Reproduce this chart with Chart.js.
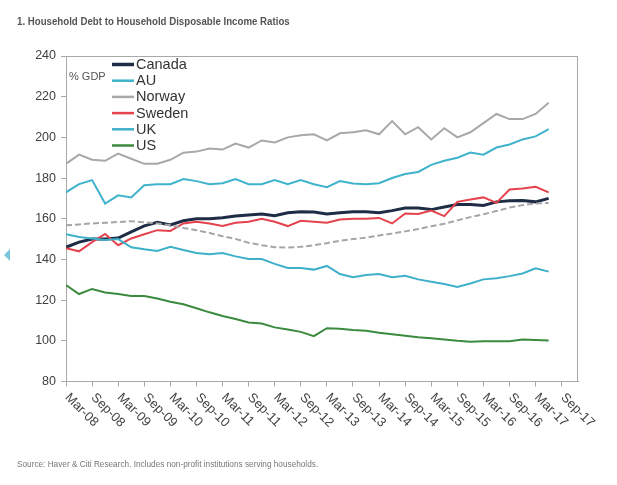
<!DOCTYPE html>
<html>
<head>
<meta charset="utf-8">
<title>Household Debt to Household Disposable Income Ratios</title>
<script src="https://cdn.jsdelivr.net/npm/chart.js@4.4.1/dist/chart.umd.min.js"></script>
<style>
  html, body { margin: 0; padding: 0; background: #fff; }
  #wrap { position: relative; width: 617px; height: 485px; overflow: hidden; }
  #chart { position: absolute; left: 0; top: 0; }
  .title {
    position: absolute; left: 17px; top: 15px;
    font: bold 11px "Liberation Sans", Arial, sans-serif;
    color: #555; white-space: nowrap;
    transform: scaleX(0.88); transform-origin: left top;
  }
  .source {
    position: absolute; left: 17px; top: 459px;
    font: 9px "Liberation Sans", Arial, sans-serif;
    color: #777; white-space: nowrap;
    transform: scaleX(0.915); transform-origin: left top;
  }
  .marker {
    position: absolute; left: 4px; top: 249px; width: 0; height: 0;
    border-top: 6px solid transparent; border-bottom: 6px solid transparent;
    border-right: 6px solid #7cc3dc;
  }
</style>
</head>
<body>
<div id="wrap">
  <canvas id="chart" width="617" height="485"></canvas>
  <div class="title">1. Household Debt to Household Disposable Income Ratios</div>
  <div class="source">Source: Haver &amp; Citi Research. Includes non-profit institutions serving households.</div>
  <div class="marker"></div>
</div>
<script>
// quarterly observations, Mar-08 .. Jun-17
const quarters = [
  "Mar-08", "Jun-08", "Sep-08", "Dec-08", "Mar-09", "Jun-09", "Sep-09", "Dec-09",
  "Mar-10", "Jun-10", "Sep-10", "Dec-10", "Mar-11", "Jun-11", "Sep-11", "Dec-11",
  "Mar-12", "Jun-12", "Sep-12", "Dec-12", "Mar-13", "Jun-13", "Sep-13", "Dec-13",
  "Mar-14", "Jun-14", "Sep-14", "Dec-14", "Mar-15", "Jun-15", "Sep-15", "Dec-15",
  "Mar-16", "Jun-16", "Sep-16", "Dec-16", "Mar-17", "Jun-17"
];
const xTickLabels = [
  "Mar-08", "Sep-08", "Mar-09", "Sep-09", "Mar-10", "Sep-10", "Mar-11", "Sep-11",
  "Mar-12", "Sep-12", "Mar-13", "Sep-13", "Mar-14", "Sep-14", "Mar-15", "Sep-15",
  "Mar-16", "Sep-16", "Mar-17", "Sep-17"
];
const yTicks = [80, 100, 120, 140, 160, 180, 200, 220, 240];

const canada = [146, 148.5, 150, 150, 150.5, 153.5, 156.5, 158.3, 157, 159, 160, 160, 160.5, 161.3, 161.8, 162.3,
  161.5, 162.9, 163.4, 163.3, 162.3, 162.9, 163.4, 163.4, 163, 164, 165.3, 165.3, 164.5, 165.8, 167, 167,
  166.5, 168.3, 168.8, 169, 168.3, 170];
const au = [173, 177, 179, 167.5, 171.5, 170.5, 176.5, 177, 177, 179.5, 178.5, 177, 177.5, 179.5, 177, 177,
  179, 177, 179, 177, 175.5, 178.5, 177.3, 177, 177.5, 180, 182, 183, 186.5, 188.5, 190, 192.5,
  191.5, 195, 196.5, 199, 200.5, 204];
const norway = [187, 191.5, 189, 188.5, 192, 189.5, 187, 187, 189, 192.5, 193, 194.5, 194, 197, 195, 198.5,
  197.5, 200, 201, 201.5, 198.5, 202, 202.5, 203.5, 201.5, 208, 201.5, 205, 199, 204.5, 200, 202.5,
  207, 211.5, 209, 209, 211.5, 217];
const sweden = [145.5, 144, 148.5, 152.5, 147, 150.3, 152.4, 154.4, 154, 157.7, 158.5, 157.7, 156.5, 158, 158.5, 160,
  158.5, 156.4, 159, 158.5, 158, 159.6, 160, 160, 160.4, 157.7, 162.6, 162.3, 164, 161.3, 168.3, 169.5,
  170.5, 167.8, 174.4, 174.9, 175.7, 173];
const uk = [152.4, 151, 150.3, 149.5, 150, 146, 145, 144.2, 146.2, 144.6, 143.2, 142.6, 143.2, 141.5, 140.2, 140.2,
  137.8, 135.8, 135.8, 135, 136.8, 132.8, 131.3, 132.3, 132.8, 131.2, 132, 130.2, 129, 127.9, 126.5, 128.2,
  130.2, 130.7, 131.8, 133.1, 135.6, 134];
const us = [127.4, 123, 125.5, 123.8, 123, 122, 122, 120.8, 119.2, 118, 116, 114, 112.2, 110.7, 109, 108.5,
  106.6, 105.6, 104.4, 102.3, 106.2, 105.9, 105.3, 105, 104, 103.2, 102.5, 101.7, 101.2, 100.7, 100, 99.5,
  99.8, 99.8, 99.8, 100.7, 100.4, 100.2];
// unlabelled dashed grey series (not in the legend)
const dashedSeries = [156.8, 157.2, 157.7, 158, 158.4, 158.8, 158.3, 157.7, 156.8, 155.5, 154.4, 153, 151.4, 150.1, 148.2, 147,
  146, 145.8, 146.2, 147, 148, 149.2, 150, 150.7, 151.8, 152.7, 153.8, 155, 156.3, 157.5, 159.2, 160.8,
  162.2, 163.8, 165.5, 166.7, 167.5, 167.8];

const AXIS_GREY = "#a9a9a9";

function pts(arr) {
  return arr.map((v, i) => ({ x: i, y: v, q: quarters[i] }));
}

function line(label, arr, color, width, dash) {
  return {
    label: label,
    data: pts(arr),
    borderColor: color,
    backgroundColor: color,
    borderWidth: width,
    borderDash: dash || [],
    pointRadius: 0,
    tension: 0,
    fill: false
  };
}

// draw order: back to front
const datasets = [
  line("", dashedSeries, "#a6a6a9", 2, [6, 3]),
  line("US", us, "#3b8a3e", 2),
  line("UK", uk, "#3fb0ca", 2),
  line("Sweden", sweden, "#e4424c", 2),
  line("Norway", norway, "#a8a8ab", 2),
  line("AU", au, "#3fb3cc", 2),
  line("Canada", canada, "#1e2c45", 3)
];
const legendOrder = ["Canada", "AU", "Norway", "Sweden", "UK", "US"];

// plot frame + inside legend + rotated x labels
const decorPlugin = {
  id: "decor",
  beforeDatasetsDraw(chart) {
    const { ctx, chartArea: a } = chart;
    ctx.save();
    ctx.strokeStyle = AXIS_GREY;
    ctx.lineWidth = 1;
    ctx.strokeRect(Math.round(a.left) + 0.5, Math.round(a.top) + 0.5,
      Math.round(a.right - a.left) - 1, Math.round(a.bottom - a.top) - 1);
    ctx.restore();
  },
  afterDraw(chart) {
    const { ctx, chartArea: a } = chart;
    ctx.save();

    // unit label
    ctx.font = "11px 'Liberation Sans', Arial, sans-serif";
    ctx.fillStyle = "#555";
    ctx.textAlign = "left";
    ctx.textBaseline = "middle";
    ctx.fillText("% GDP", a.left + 3, a.top + 21);

    // legend
    ctx.font = "14.5px 'Liberation Sans', Arial, sans-serif";
    legendOrder.forEach((name, k) => {
      const ds = chart.data.datasets.find(d => d.label === name);
      const y = a.top + 8.5 + k * 16.2;
      ctx.strokeStyle = ds.borderColor;
      ctx.lineWidth = ds.borderWidth + 0.5;
      ctx.beginPath();
      ctx.moveTo(a.left + 46, y);
      ctx.lineTo(a.left + 68, y);
      ctx.stroke();
      ctx.fillStyle = "#333";
      ctx.fillText(name, a.left + 70, y + 0.5);
    });

    // rotated category labels
    const xs = chart.scales.x;
    ctx.font = "13px 'Liberation Sans', Arial, sans-serif";
    ctx.fillStyle = "#444";
    ctx.textAlign = "left";
    ctx.textBaseline = "middle";
    xTickLabels.forEach((lab, k) => {
      const px = xs.getPixelForValue(k * 2);
      ctx.save();
      ctx.translate(px + 1, a.bottom + 14);
      ctx.rotate(Math.PI / 4);
      ctx.fillText(lab, 0, 0);
      ctx.restore();
    });
    ctx.restore();
  }
};

const chart = new Chart(document.getElementById("chart"), {
  type: "line",
  data: { datasets: datasets },
  options: {
    responsive: false,
    animation: false,
    devicePixelRatio: 1,
    layout: { padding: { left: 0, top: 56, right: 39, bottom: 0 } },
    plugins: {
      legend: { display: false },
      title: { display: false },
      tooltip: { enabled: false }
    },
    scales: {
      x: {
        type: "linear",
        min: 0,
        max: 39.25,
        afterBuildTicks: s => { s.ticks = xTickLabels.map((_, k) => ({ value: k * 2 })); },
        afterFit: s => { s.height = 103.5; },
        ticks: { display: false },
        grid: { drawOnChartArea: false, drawTicks: true, tickLength: 5, color: AXIS_GREY },
        border: { color: AXIS_GREY }
      },
      y: {
        min: 80,
        max: 240,
        afterBuildTicks: s => { s.ticks = yTicks.map(v => ({ value: v })); },
        afterFit: s => { s.width = 66; },
        ticks: {
          color: "#404040",
          padding: 5,
          font: { family: "'Liberation Sans', Arial, sans-serif", size: 12.5 }
        },
        grid: { drawOnChartArea: false, drawTicks: true, tickLength: 5, color: AXIS_GREY },
        border: { color: AXIS_GREY }
      }
    }
  },
  plugins: [decorPlugin]
});
</script>
</body>
</html>
